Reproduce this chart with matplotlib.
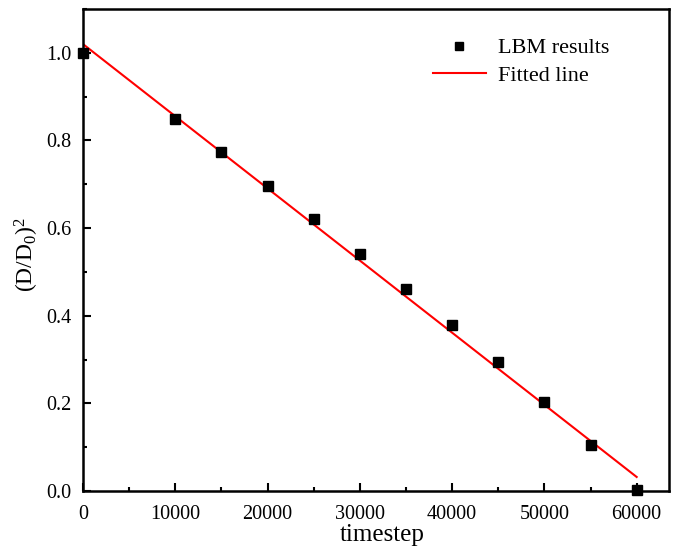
import matplotlib
matplotlib.use("Agg")
import matplotlib.pyplot as plt
from matplotlib.ticker import MultipleLocator, FormatStrFormatter

plt.rcParams['font.family'] = ['Liberation Serif', 'DejaVu Serif']
plt.rcParams['mathtext.fontset'] = 'custom'
plt.rcParams['mathtext.rm'] = 'Liberation Serif'
plt.rcParams['mathtext.it'] = 'Liberation Serif:italic'

timestep = [0, 10000, 15000, 20000, 25000, 30000, 35000, 40000, 45000, 50000, 55000, 60000]
d_ratio_sq = [1.000, 0.850, 0.774, 0.695, 0.620, 0.541, 0.462, 0.378, 0.294, 0.203, 0.105, 0.002]
fit_x = [0, 60000]
fit_y = [1.020, 0.032]

fig = plt.figure(figsize=(6.73, 5.47), dpi=100)
ax = fig.add_axes([0.1233, 0.1024, 0.8707, 0.8811])

ax.plot(timestep, d_ratio_sq, linestyle='none', marker='s', color='black',
        markersize=7.5, label='LBM results', clip_on=False, zorder=3)
ax.plot(fit_x, fit_y, color='red', linewidth=1.5, label='Fitted line', zorder=2)

ax.set_xlim(0, 63500)
ax.set_ylim(0, 1.1)
ax.xaxis.set_major_locator(MultipleLocator(10000))
ax.xaxis.set_minor_locator(MultipleLocator(5000))
ax.yaxis.set_major_locator(MultipleLocator(0.2))
ax.yaxis.set_minor_locator(MultipleLocator(0.1))
ax.yaxis.set_major_formatter(FormatStrFormatter('%.1f'))

ax.tick_params(which='both', direction='in', top=False, right=False, width=1.5, labelsize=14.5)
ax.tick_params(which='major', length=5.5)
ax.tick_params(which='minor', length=3)
ax.tick_params(axis='x', pad=10)
ax.tick_params(axis='y', pad=8)
for s in ax.spines.values():
    s.set_linewidth(1.8)

ax.set_xlabel('timestep', fontsize=18)
ax.xaxis.set_label_coords(0.51, -0.069)
ax.set_ylabel(r'(D/D$_\mathregular{0}$)$^\mathregular{2}$', fontsize=17)
ax.yaxis.set_label_coords(-0.072, 0.49)

ax.legend(loc='upper left', bbox_to_anchor=(0.597, 0.94), frameon=False, fontsize=16,
          handlelength=2.4, handletextpad=0.55, borderaxespad=0, borderpad=0,
          labelspacing=0.3, markerscale=0.75)

fig.savefig('out.png', dpi=100)
